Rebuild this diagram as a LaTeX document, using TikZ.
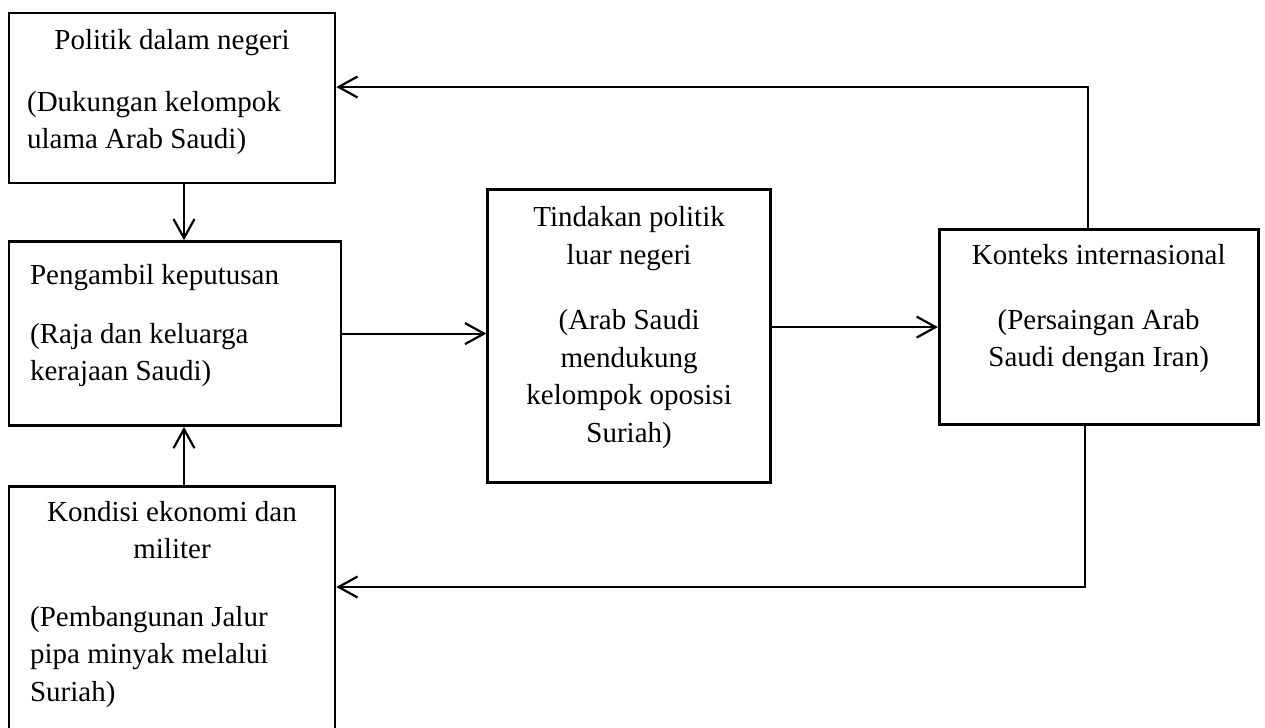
\documentclass[tikz,border=0pt]{standalone}
\usepackage{fontspec}
\setmainfont{Liberation Serif}
\usetikzlibrary{arrows.meta, positioning}
\tikzset{
    kotak/.style={rectangle, draw, line width=1.3pt, inner sep=0pt},
    teks/.style={inner sep=0pt, align=center, font=\fontsize{14.5pt}{18.75pt}\selectfont},
    tekskiri/.style={teks, align=left},
    panah/.style={line width=1.1pt, -{Straight Barb[length=9.5pt, width=10.5pt]}}
}
\begin{document}
\begin{tikzpicture}[x=0.5pt, y=-0.5pt]
        \useasboundingbox (0,0) rectangle (1265,728);

        % Kotak-kotak utama
        \node (pdn) [kotak, minimum width=163pt, minimum height=85pt] at (172,98) {};
        \node (pk) [kotak, minimum width=166pt, minimum height=92pt, below right=28pt and 0pt of pdn.south west] {};
        \node (kem) [kotak, minimum width=163pt, minimum height=129.5pt, below right=29pt and 0pt of pk.south west] {};
        \node (tpl) [kotak, minimum width=141.5pt, minimum height=146.5pt, right=72pt of pk, yshift=-1.25pt] {};
        \node (ki) [kotak, minimum width=159.5pt, minimum height=97.5pt, right=83pt of tpl, yshift=4.5pt] {};

        % Teks di dalam kotak
        \node (pdn_judul) [teks, below=8.5pt of pdn.north] {Politik dalam negeri};
        \node (pdn_isi) [tekskiri, below right=39.5pt and 9.5pt of pdn.north west] {(Dukungan kelompok\\ulama Arab Saudi)};

        \node (pk_isi) [tekskiri, below right=12pt and 11pt of pk.north west] {Pengambil keputusan\\[10.5pt](Raja dan keluarga\\kerajaan Saudi)};

        \node (kem_judul) [teks, below=8pt of kem.north] {Kondisi ekonomi dan\\militer};
        \node (kem_isi) [tekskiri, below right=60.5pt and 11pt of kem.north west] {(Pembangunan Jalur\\pipa minyak melalui\\Suriah)};

        \node (tpl_isi) [teks, below=9pt of tpl.north] {Tindakan politik\\luar negeri\\[14pt](Arab Saudi\\mendukung\\kelompok oposisi\\Suriah)};

        \node (ki_isi) [teks, below=8pt of ki.north] {Konteks internasional\\[13.5pt](Persaingan Arab\\Saudi dengan Iran)};

        % Titik belok umpan balik
        \coordinate (belok_atas) at (1088,87);
        \coordinate (belok_bawah) at (1085,587);

        % Panah
        \draw [panah] (pdn.south -| 184,0) -- (pk.north -| 184,0);
        \draw [panah] (kem.north -| 184,0) -- (pk.south -| 184,0);
        \draw [panah] (pk.east) -- (pk.east -| tpl.west);
        \draw [panah] (tpl.east |- ki.west) -- (ki.west);
        \draw [panah] (ki.north -| belok_atas) -- (belok_atas) -- (belok_atas -| pdn.east);
        \draw [panah] (ki.south -| belok_bawah) -- (belok_bawah) -- (belok_bawah -| kem.east);

\end{tikzpicture}
\end{document}
